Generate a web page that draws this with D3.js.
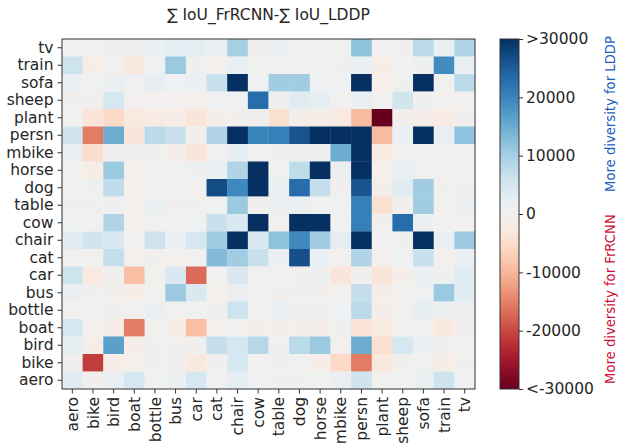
<!DOCTYPE html>
<html>
<head>
<meta charset="utf-8">
<script src="https://cdn.jsdelivr.net/npm/d3@7"></script>
<style>
  body { margin: 0; background: #fff; }
  text { font-family: "DejaVu Sans", sans-serif; }
</style>
</head>
<body>
<div id="chart"></div>
<script>
// chart size
var svgWidth = 618;
var svgHeight = 444;

// categories
var colLabels = ["aero", "bike", "bird", "boat", "bottle", "bus", "car", "cat", "chair", "cow",
                 "table", "dog", "horse", "mbike", "persn", "plant", "sheep", "sofa", "train", "tv"];
var rowLabels = ["tv", "train", "sofa", "sheep", "plant", "persn", "mbike", "horse", "dog", "table",
                 "cow", "chair", "cat", "car", "bus", "bottle", "boat", "bird", "bike", "aero"];

// sum IoU difference, one row per rowLabels entry, columns follow colLabels
var diffValues = [
  [1000, 300, 800, 200, 1500, 3000, 3000, 1800, 10000, 200, 1800, 1000, 500, 500, 12000, 300, 200, 8000, 1800, 9000],
  [6000, -1500, 300, -3000, 1000, 11000, 800, -500, 2000, 500, 300, 300, 600, 800, 2000, -1500, 300, 800, 19000, 2200],
  [2000, 700, 1500, 1000, 2500, 1000, 1800, 6500, 31000, 1000, 10500, 10500, 1000, 1000, 31000, -1000, 800, 31000, 500, 8000],
  [200, 200, 5000, 0, 0, 0, -300, 1000, 1000, 23000, 200, 3500, 2500, 300, 2000, 300, 5500, 800, 300, 300],
  [500, -3500, -5500, -2500, -2000, -1500, -3500, -700, 200, 200, -4500, -700, -1500, -2500, -9500, -31000, 200, -1200, -2000, 200],
  [5500, -15500, 15000, -3500, 8000, 6500, 100, 9000, 31000, 20000, 20500, 26000, 31000, 31000, 31000, -9500, 2000, 31000, 2000, 12000],
  [1500, -5000, 200, 800, 900, -700, -3500, 300, 3000, 500, 800, 200, 1500, 15000, 31000, -2500, 300, 600, 500, 500],
  [400, -1500, 11000, -600, 600, 500, 1200, 2000, 9000, 31000, 700, 7500, 31000, 1600, 31000, -1000, 2000, 500, 500, 300],
  [400, 800, 7500, -600, 500, 400, 300, 27000, 19500, 31000, 1800, 23000, 7000, 200, 26000, -800, 3500, 10500, 200, 900],
  [1200, 200, 800, -400, 1800, 200, 200, 1000, 11000, 200, 1500, 1500, 500, 700, 20500, -4500, 200, 10500, 300, 1500],
  [1000, 500, 9000, -400, 500, 500, 600, 6500, 4500, 31000, 300, 31000, 31000, 300, 20500, 200, 23000, 1500, 400, 300],
  [3500, 5500, 4500, 600, 6000, 2000, 5000, 10500, 31000, 4500, 12000, 19500, 10500, 3000, 31000, 300, 800, 31000, 2000, 11000],
  [400, 400, 7000, -300, 200, -300, 300, 13000, 10500, 6500, 1500, 26500, 2000, 300, 9000, -600, 1000, 6500, -400, 1500],
  [6000, -2500, 200, -9000, 500, 4500, -17000, 400, 4500, 500, 400, 200, 900, -3500, 100, -3500, -800, 1800, 800, 3500],
  [1500, 200, 200, -1500, 500, 11000, 4500, -500, 1500, 500, 200, 200, 200, -400, 7000, -1200, 300, 1000, 11000, 3500],
  [300, 1000, 200, 300, 1500, 500, 500, 200, 6000, 300, 2000, 200, 800, 1000, 8000, -1200, 300, 2500, 1200, 1200],
  [5000, -500, -1500, -15500, 500, -1500, -9000, -600, 500, -700, -700, -700, -700, 800, -4000, -2500, 300, 500, -3000, 200],
  [2500, -1500, 16500, -1200, 100, 100, 100, 7000, 5000, 8500, 1200, 8000, 11000, 300, 15000, -4500, 5000, 1500, 200, 700],
  [100, -21000, -1500, -500, 900, 200, -3000, 200, 5000, 300, 200, 600, -1500, -5500, -15500, -3000, 200, 400, -1500, 100],
  [3500, 200, 2000, 5000, 500, 1600, 5000, 300, 3000, 1000, 1200, 800, 600, 1600, 5500, 500, 400, 1700, 6000, 1000]
];

// colorbar ticks
var barTicks = [30000, 20000, 10000, 0, -10000, -20000, -30000];
var barTickLabels = [">30000", "20000", "10000", "0", "-10000", "-20000", "<-30000"];

var margin = {left: 62, top: 39, right: 475, bottom: 389};
var bar = {x: 500, w: 19};
var textColor = "#262626";

var svg = d3.select("#chart")
    .append("svg")
    .attr("width", svgWidth)
    .attr("height", svgHeight);

var x = d3.scaleBand().domain(colLabels).range([margin.left, margin.right]).padding(0);
var y = d3.scaleBand().domain(rowLabels).range([margin.top, margin.bottom]).padding(0);
var color = d3.scaleSequential(d3.interpolateRdBu).domain([-30000, 30000]).clamp(true);

// flatten matrix into cells
var cells = [];
diffValues.forEach(function(row, i){
    row.forEach(function(v, j){
        cells.push({row: rowLabels[i], col: colLabels[j], value: v});
    });
});

svg.append("g")
    .selectAll("rect")
    .data(cells)
    .enter()
    .append("rect")
    .attr("x", d => x(d.col))
    .attr("y", d => y(d.row))
    .attr("width", x.bandwidth() + 0.3)
    .attr("height", y.bandwidth() + 0.3)
    .attr("fill", d => color(d.value));

// frame
svg.append("rect")
    .attr("x", margin.left)
    .attr("y", margin.top)
    .attr("width", margin.right - margin.left)
    .attr("height", margin.bottom - margin.top)
    .attr("fill", "none")
    .attr("stroke", "#333")
    .attr("stroke-width", 1);

// axes
var yAxis = svg.append("g")
    .attr("transform", "translate(" + margin.left + ",0)")
    .call(d3.axisLeft(y).tickSize(4.5).tickPadding(4));
var xAxis = svg.append("g")
    .attr("transform", "translate(0," + margin.bottom + ")")
    .call(d3.axisBottom(x).tickSize(4.5).tickPadding(4));

[xAxis, yAxis].forEach(function(ax){
    ax.select(".domain").remove();
    ax.selectAll(".tick line").attr("stroke", "#333");
    ax.selectAll("text")
        .attr("fill", textColor)
        .style("font-size", "15.5px")
        .style("font-family", "DejaVu Sans");
});

xAxis.selectAll("text")
    .attr("transform", "rotate(-90)")
    .attr("x", -8)
    .attr("y", 0)
    .attr("dy", "0.36em")
    .style("text-anchor", "end");

// title
svg.append("text")
    .attr("x", (margin.left + margin.right) / 2)
    .attr("y", 20)
    .attr("text-anchor", "middle")
    .attr("fill", textColor)
    .style("font-size", "15.5px")
    .text("\u2211 IoU_FrRCNN-\u2211 IoU_LDDP");

// colorbar
var barScale = d3.scaleLinear().domain([-30000, 30000]).range([margin.bottom, margin.top]);
var grad = svg.append("defs").append("linearGradient")
    .attr("id", "cbar")
    .attr("x1", 0).attr("y1", 1).attr("x2", 0).attr("y2", 0);
grad.selectAll("stop")
    .data(d3.range(0, 1.0001, 0.02))
    .enter()
    .append("stop")
    .attr("offset", d => d)
    .attr("stop-color", d => d3.interpolateRdBu(d));

svg.append("rect")
    .attr("x", bar.x)
    .attr("y", margin.top)
    .attr("width", bar.w)
    .attr("height", margin.bottom - margin.top)
    .attr("fill", "url(#cbar)")
    .attr("stroke", "#333")
    .attr("stroke-width", 1);

var barAxis = svg.append("g")
    .attr("transform", "translate(" + (bar.x + bar.w) + ",0)")
    .call(d3.axisRight(barScale)
        .tickValues(barTicks)
        .tickFormat((d, i) => barTickLabels[i])
        .tickSize(4)
        .tickPadding(3));
barAxis.select(".domain").remove();
barAxis.selectAll(".tick line").attr("stroke", "#333");
barAxis.selectAll("text")
    .attr("fill", textColor)
    .style("font-size", "15.5px")
    .style("font-family", "DejaVu Sans");

// side notes
svg.append("text")
    .attr("transform", "translate(614.5,192) rotate(-90)")
    .attr("fill", "#1f5fc0")
    .style("font-size", "13.2px")
    .text("More diversity for LDDP");
svg.append("text")
    .attr("transform", "translate(614.5,384) rotate(-90)")
    .attr("fill", "#d0103a")
    .style("font-size", "13.2px")
    .text("More diversity for FrRCNN");
</script>
</body>
</html>
